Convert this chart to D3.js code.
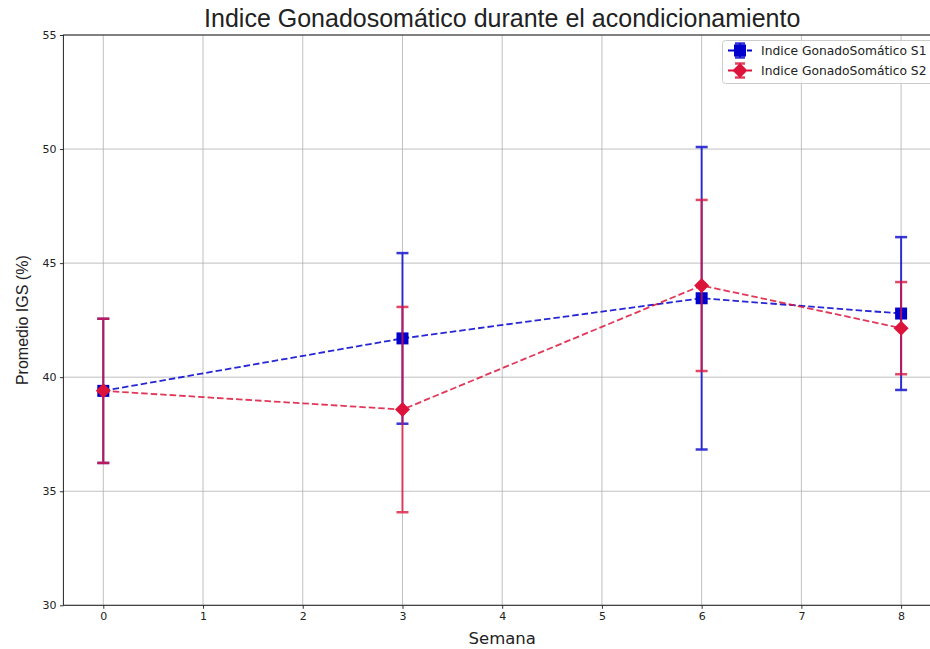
<!DOCTYPE html>
<html>
<head>
<meta charset="utf-8">
<script src="https://cdn.jsdelivr.net/npm/d3@7"></script>
<style>
  body { margin: 0; background: #fff; }
  svg { display: block; }
</style>
</head>
<body>
<div id="chart"></div>
<script>
// data
var semanas = [0, 3, 6, 8];
var igsS1 = [39.4, 41.7, 43.46, 42.79];
var errS1 = [3.16, 3.74, 6.63, 3.35];
var igsS2 = [39.4, 38.58, 44.02, 42.15];
var errS2 = [3.16, 4.5, 3.75, 2.02];
var xTicks = [0, 1, 2, 3, 4, 5, 6, 7, 8];
var yTicks = [30, 35, 40, 45, 50, 55];
var seriesNames = ['Indice GonadoSomático S1', 'Indice GonadoSomático S2'];

(function () {
  var width = 930, height = 649;
  var mLeft = 63.4, mRight = 941, mTop = 35, mBottom = 605.3;

  var svg = d3.select('#chart').append('svg')
    .attr('width', width)
    .attr('height', height);

  var x = d3.scaleLinear().domain([-0.4, 8.4]).range([mLeft, mRight]);
  var y = d3.scaleLinear().domain([30, 55]).range([mBottom, mTop]);

  // grid
  svg.append('g').selectAll('line').data(xTicks).enter().append('line')
    .attr('x1', function (d) { return x(d); }).attr('x2', function (d) { return x(d); })
    .attr('y1', mTop).attr('y2', mBottom)
    .attr('stroke', '#b0b0b0').attr('stroke-width', 0.8);
  svg.append('g').selectAll('line').data(yTicks).enter().append('line')
    .attr('x1', mLeft).attr('x2', mRight)
    .attr('y1', function (d) { return y(d); }).attr('y2', function (d) { return y(d); })
    .attr('stroke', '#b0b0b0').attr('stroke-width', 0.8);

  // axes
  var xAxis = svg.append('g').attr('transform', 'translate(0,' + mBottom + ')')
    .call(d3.axisBottom(x).tickValues(xTicks).tickSize(3.5).tickPadding(3.5).tickFormat(d3.format('d')));
  var yAxis = svg.append('g').attr('transform', 'translate(' + mLeft + ',0)')
    .call(d3.axisLeft(y).tickValues(yTicks).tickSize(3.5).tickPadding(3.5).tickFormat(d3.format('d')));
  [xAxis, yAxis].forEach(function (a) {
    a.select('.domain').remove();
    a.selectAll('line').attr('stroke', '#000').attr('stroke-width', 0.8);
    a.selectAll('text').attr('font-family', 'DejaVu Sans').attr('font-size', '11px').attr('fill', '#222');
  });

  // spines
  svg.append('rect').attr('x', mLeft).attr('y', mTop)
    .attr('width', mRight - mLeft).attr('height', mBottom - mTop)
    .attr('fill', 'none').attr('stroke', '#222').attr('stroke-width', 1);

  function drawSeries(means, errs, color, marker) {
    var g = svg.append('g');
    var pts = semanas.map(function (s, i) { return { s: s, m: means[i], e: errs[i] }; });
    // error bars
    var eb = g.append('g').attr('opacity', 0.78);
    eb.selectAll('.v').data(pts).enter().append('line')
      .attr('x1', function (d) { return x(d.s); }).attr('x2', function (d) { return x(d.s); })
      .attr('y1', function (d) { return y(d.m - d.e); }).attr('y2', function (d) { return y(d.m + d.e); })
      .attr('stroke', color).attr('stroke-width', 2);
    [-1, 1].forEach(function (k) {
      eb.selectAll('.c' + k).data(pts).enter().append('line')
        .attr('x1', function (d) { return x(d.s) - 6; }).attr('x2', function (d) { return x(d.s) + 6; })
        .attr('y1', function (d) { return y(d.m + k * d.e); }).attr('y2', function (d) { return y(d.m + k * d.e); })
        .attr('stroke', color).attr('stroke-width', 2.5);
    });
    // dashed line
    g.append('path').datum(pts)
      .attr('d', d3.line().x(function (d) { return x(d.s); }).y(function (d) { return y(d.m); }))
      .attr('fill', 'none').attr('stroke', color).attr('stroke-opacity', 0.85)
      .attr('stroke-width', 1.8).attr('stroke-dasharray', '6.5,3');
    // markers
    g.selectAll('.mk').data(pts).enter().append('path')
      .attr('transform', function (d) { return 'translate(' + x(d.s) + ',' + y(d.m) + ')'; })
      .attr('d', marker)
      .attr('fill', color);
  }

  var squarePath = 'M-6,-6H6V6H-6Z';
  var diamondPath = 'M0,-7.5L7.5,0L0,7.5L-7.5,0Z';
  drawSeries(igsS1, errS1, '#0000cd', squarePath);
  drawSeries(igsS2, errS2, '#dc143c', diamondPath);

  // legend
  var lg = svg.append('g');
  lg.append('rect').attr('x', 722.5).attr('y', 40.5).attr('width', 240).attr('height', 43)
    .attr('rx', 3).attr('fill', '#fff').attr('fill-opacity', 0.8)
    .attr('stroke', '#cccccc').attr('stroke-width', 1);
  [
    { name: seriesNames[0], color: '#0000cd', marker: squarePath },
    { name: seriesNames[1], color: '#dc143c', marker: diamondPath }
  ].forEach(function (it, i) {
    var cy = 50.5 + i * 20;
    var row = lg.append('g');
    row.append('line').attr('x1', 728).attr('x2', 752).attr('y1', cy).attr('y2', cy)
      .attr('stroke', it.color).attr('stroke-width', 1.8).attr('stroke-dasharray', '6.5,3');
    row.append('line').attr('x1', 740).attr('x2', 740).attr('y1', cy - 7).attr('y2', cy + 7)
      .attr('stroke', it.color).attr('stroke-width', 2).attr('opacity', 0.8);
    [-7, 7].forEach(function (o) {
      row.append('line').attr('x1', 735).attr('x2', 745).attr('y1', cy + o).attr('y2', cy + o)
        .attr('stroke', it.color).attr('stroke-width', 2.5).attr('opacity', 0.8);
    });
    row.append('path').attr('transform', 'translate(740,' + cy + ')').attr('d', it.marker).attr('fill', it.color);
    row.append('text').attr('x', 761).attr('y', cy).attr('dy', '0.35em')
      .attr('font-family', 'DejaVu Sans').attr('font-size', '12.3px').attr('fill', '#222')
      .text(it.name);
  });

  // titles
  svg.append('text').attr('x', (mLeft + mRight) / 2).attr('y', 27)
    .attr('text-anchor', 'middle').attr('font-family', 'Liberation Sans, Arial')
    .attr('font-size', '25px').attr('fill', '#222')
    .text('Indice Gonadosomático durante el acondicionamiento');
  svg.append('text').attr('x', (mLeft + mRight) / 2).attr('y', 644)
    .attr('text-anchor', 'middle').attr('font-family', 'DejaVu Sans')
    .attr('font-size', '16.5px').attr('fill', '#222')
    .text('Semana');
  svg.append('text')
    .attr('transform', 'translate(28,' + ((mTop + mBottom) / 2) + ') rotate(-90)')
    .attr('text-anchor', 'middle').attr('font-family', 'Liberation Sans, Arial')
    .attr('font-size', '16px').attr('fill', '#222')
    .text('Promedio IGS (%)');
})();
</script>
</body>
</html>
